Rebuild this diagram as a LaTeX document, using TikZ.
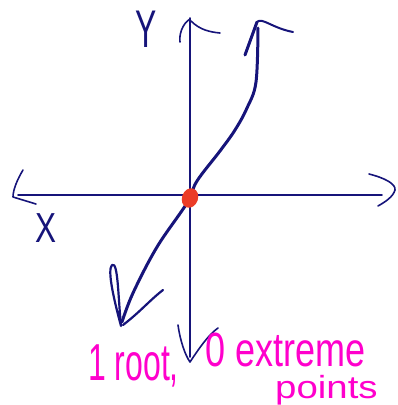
\documentclass[tikz,border=0pt]{standalone}
\usepackage{fontspec}
\setmainfont{Liberation Sans}
\definecolor{ink}{RGB}{22,20,122}
\definecolor{pinkink}{RGB}{255,0,204}
\definecolor{dotred}{RGB}{235,60,40}
\tikzset{
  axis/.style={draw=ink, line width=1.6pt, line cap=round, line join=round},
  graph/.style={draw=ink, line width=3pt, line cap=round, line join=round},
  lbl/.style={text=ink, inner sep=0pt},
  note/.style={text=pinkink, inner sep=0pt, anchor=base west, font=\fontsize{40}{40}\selectfont}
}
\begin{document}
\begin{tikzpicture}[x=1pt,y=-1pt]
\useasboundingbox (0,0) rectangle (397,405);
% axes
\draw[axis] (18,195) -- (382,195);
\draw[axis] (190,18) -- (190,357);
% left arrowhead
\draw[axis] (23,170) .. controls (17,180) and (13,190) .. (13,197) -- (36,204);
% right arrowhead
\draw[axis] (369,174) .. controls (385,178) and (396,184) .. (395,190) .. controls (393,197) and (385,202) .. (378,206);
% top arrowhead
\draw[axis] (190,19) .. controls (182,24) and (179,35) .. (180,42);
\draw[axis] (191,21) .. controls (200,30) and (210,32) .. (220,33);
% bottom arrowhead
\draw[axis] (178,325) .. controls (180,340) and (185,355) .. (190,362) .. controls (198,350) and (208,335) .. (218,328);
% graph curve
\draw[graph] plot[smooth, tension=0.6] coordinates {(122,322) (133,293) (157,247) (187,203) (197,181) (220,151) (235,130) (247,108) (256,82) (258,28)};
% upper arrowhead
\draw[graph] (245,55) -- (257,22);
\draw[axis, line width=2pt] (257,22) .. controls (262,17) and (272,28) .. (293,32);
% lower arrowhead
\draw[axis, line width=2.2pt] (121,326) .. controls (114,300) and (107,270) .. (112,265) .. controls (118,261) and (118,295) .. (121,326);
\draw[axis, line width=2.2pt] (123,325) .. controls (140,312) and (150,300) .. (163,290);
% origin dot
\fill[dotred, rotate around={-20:(190,198)}] (190,198) ellipse [x radius=8, y radius=10];
% labels
\node[lbl, font=\fontsize{53}{53}\selectfont, xscale=0.6] (ylab) at (146,29) {Y};
\node[lbl, font=\fontsize{42}{42}\selectfont, xscale=0.75] (xlab) at (46,228) {X};
\node[note, xscale=0.8, yscale=1.3] (n1) at (88,380) {1 root,};
\node[note, xscale=0.9, yscale=1.2] (n2) at (205,366) {0 extreme};
\node[note, font=\fontsize{32}{32}\selectfont, xscale=1.2, yscale=1.0] (n3) at (275,398) {points};
\end{tikzpicture}
\end{document}
